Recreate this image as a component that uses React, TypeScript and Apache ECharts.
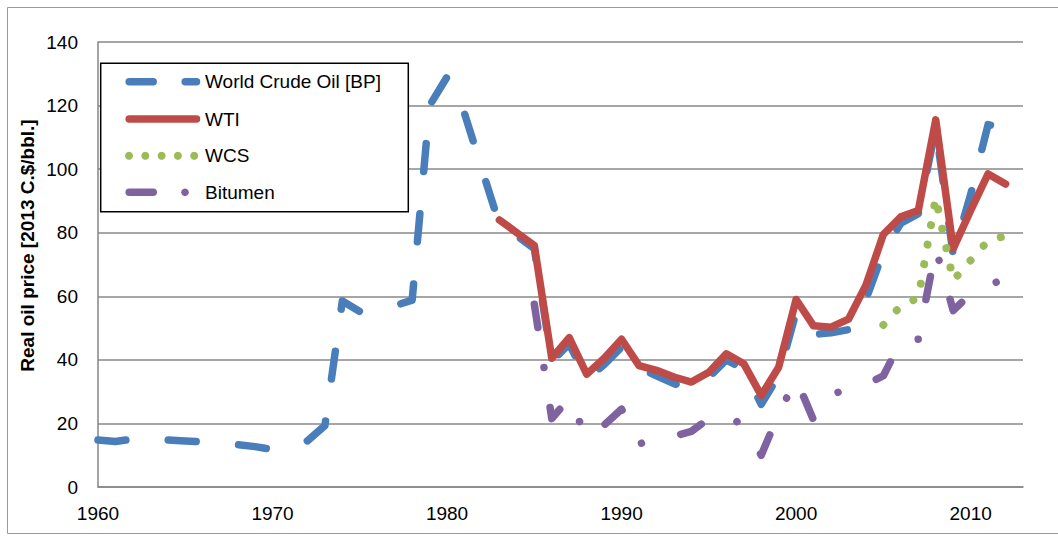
import React, { useEffect, useRef } from "react";
import * as echarts from "echarts";

const years = [
  1960, 1961, 1962, 1963, 1964, 1965, 1966, 1967, 1968, 1969,
  1970, 1971, 1972, 1973, 1974, 1975, 1976, 1977, 1978, 1979,
  1980, 1981, 1982, 1983, 1984, 1985, 1986, 1987, 1988, 1989,
  1990, 1991, 1992, 1993, 1994, 1995, 1996, 1997, 1998, 1999,
  2000, 2001, 2002, 2003, 2004, 2005, 2006, 2007, 2008, 2009,
  2010, 2011, 2012,
];

// 1960-2012
const worldCrudeBP = [
  14.8, 14.3, 15.1, 15.0, 14.8, 14.5, 14.2, 14.0, 13.3, 12.7,
  11.8, 12.3, 14.5, 19.3, 58.5, 55.2, 55.6, 57.0, 58.8, 120,
  129, 117.5, 100, 82.5, 79, 75, 39.5, 45, 34, 38.5,
  44, 37.5, 35, 32.5, 31, 34.5, 40, 37, 26, 35,
  55, 48, 48.5, 49.5, 59, 74, 83, 86, 113, 73,
  92, 114, 113,
];
// 1983-2012
const wti = [
  84, 80, 76, 40.5, 47, 35.5, 40.5, 46.5, 38.2, 36.7,
  34.6, 33, 36.1, 41.9, 38.8, 28.8, 37.7, 59, 50.7, 50.3,
  52.8, 63.5, 79.5, 85, 87, 115.5, 75, 87, 98.5, 95.3,
];
// 2005-2012
const wcs = [51, 57, 59.5, 91, 65, 71.3, 77.5, 79];
// 1985-2012
const bitumen = [
  57.5, 21.5, 28, 15.5, 19.5, 24.5, 13.5, 15.5, 16, 17.5,
  21.5, 23, 19, 10, 23, 34, 21, 29, 31, 32.3,
  35, 45.8, 46.5, 75, 55.5, 60.8, 63.5, 65.5,
];

const seriesNames = ["World Crude Oil [BP]", "WTI", "WCS", "Bitumen"];
const colors = ["#4a7ebb", "#be4b48", "#9bbb59", "#7f62a0"];
const yTitle = "Real oil price [2013 C.$/bbl.]";

const FONT = '"Liberation Sans", Arial, sans-serif';

function pairs(startYear: number, values: number[]) {
  const i0 = years.indexOf(startYear);
  return values.map((v, i) => [years[i0 + i], v]);
}

export default function App() {
  const ref = useRef<HTMLDivElement>(null);
  useEffect(() => {
    if (!ref.current) return;
    const chart = echarts.init(ref.current, undefined, { renderer: "svg" });
    const lw = 7.5;
    const base = { type: "line", symbol: "none", showSymbol: false, silent: true };
    const legendX1 = 129.2;
    const legendX2 = 196.5;
    const rows = [81.7, 119, 155.7, 192.3];
    const option: any = {
      animation: false,
      grid: { left: 98, top: 42, width: 925, height: 445, containLabel: false },
      xAxis: {
        type: "value",
        min: 1960,
        max: 2013,
        interval: 10,
        axisLine: { show: true, lineStyle: { color: "#868686", width: 1.5 } },
        axisTick: { show: false },
        splitLine: { show: false },
        axisLabel: {
          formatter: (v: number) => (v % 10 === 0 ? String(v) : ""),
          color: "#000",
          fontSize: 19,
          fontFamily: FONT,
          margin: 17,
          showMaxLabel: false,
        },
      },
      yAxis: {
        type: "value",
        min: 0,
        max: 140,
        interval: 20,
        axisLine: { show: true, lineStyle: { color: "#868686", width: 1.5 } },
        axisTick: { show: false },
        splitLine: { show: true, lineStyle: { color: "#898989", width: 1.5 } },
        axisLabel: { color: "#000", fontSize: 19, fontFamily: FONT, margin: 20 },
      },
      series: [
        {
          ...base,
          name: seriesNames[0],
          data: pairs(1960, worldCrudeBP),
          lineStyle: { color: colors[0], width: lw, type: [28, 42.5], cap: "round", join: "round" },
          z: 2,
        },
        {
          ...base,
          name: seriesNames[1],
          data: pairs(1983, wti),
          lineStyle: { color: colors[1], width: lw, type: "solid", cap: "round", join: "round" },
          z: 3,
        },
        {
          ...base,
          name: seriesNames[2],
          data: pairs(2005, wcs),
          lineStyle: { color: colors[2], width: 8, type: [0.01, 19.8], cap: "round", join: "round" },
          z: 4,
        },
        {
          ...base,
          name: seriesNames[3],
          data: pairs(1985, bitumen),
          lineStyle: { color: colors[3], width: lw, type: [23.5, 40.5, 0.01, 40.5], cap: "round", join: "round" },
          z: 5,
        },
      ],
      graphic: [
        {
          type: "rect",
          shape: { x: 7.5, y: 7.5, width: 1100, height: 526 },
          style: { fill: "none", stroke: "#9a9a9a", lineWidth: 1 },
          silent: true,
          z: 0,
        },
        {
          type: "rect",
          shape: { x: 100.7, y: 63.3, width: 307.6, height: 148.4 },
          style: { fill: "#fff", stroke: "#000", lineWidth: 1.5 },
          z: 100,
        },
        {
          type: "line",
          shape: { x1: legendX1, y1: rows[0], x2: legendX2, y2: rows[0] },
          style: { stroke: colors[0], lineWidth: lw, lineDash: [24, 32], lineCap: "round" },
          z: 101,
        },
        {
          type: "line",
          shape: { x1: legendX1, y1: rows[1], x2: legendX2, y2: rows[1] },
          style: { stroke: colors[1], lineWidth: lw, lineCap: "round" },
          z: 101,
        },
        ...[129, 145.3, 161.6, 177.9, 194.2].map((cx) => ({
          type: "circle",
          shape: { cx, cy: rows[2], r: 4 },
          style: { fill: colors[2] },
          z: 101,
        })),
        {
          type: "line",
          shape: { x1: legendX1, y1: rows[3], x2: 153.2, y2: rows[3] },
          style: { stroke: colors[3], lineWidth: lw, lineCap: "round" },
          z: 101,
        },
        {
          type: "circle",
          shape: { cx: 185, cy: rows[3], r: 3.8 },
          style: { fill: colors[3] },
          z: 101,
        },
        ...seriesNames.map((name, i) => ({
          type: "text",
          x: 205,
          y: rows[i],
          style: {
            text: name,
            fontSize: 19,
            fontFamily: FONT,
            fill: "#000",
            align: "left",
            verticalAlign: "middle",
            textAlign: "left",
            textVerticalAlign: "middle",
          },
          z: 102,
        })),
        {
          type: "text",
          x: 27,
          y: 245.5,
          rotation: Math.PI / 2,
          style: {
            text: yTitle,
            fontSize: 19,
            fontWeight: "bold",
            fontFamily: FONT,
            fill: "#000",
            align: "center",
            verticalAlign: "middle",
            textAlign: "center",
            textVerticalAlign: "middle",
          },
          z: 102,
        },
      ],
    };
    chart.setOption(option);
    return () => chart.dispose();
  }, []);
  return (
    <div
      ref={ref}
      style={{ position: "absolute", left: 0, top: 0, width: 1058, height: 536, background: "#fff" }}
    />
  );
}
